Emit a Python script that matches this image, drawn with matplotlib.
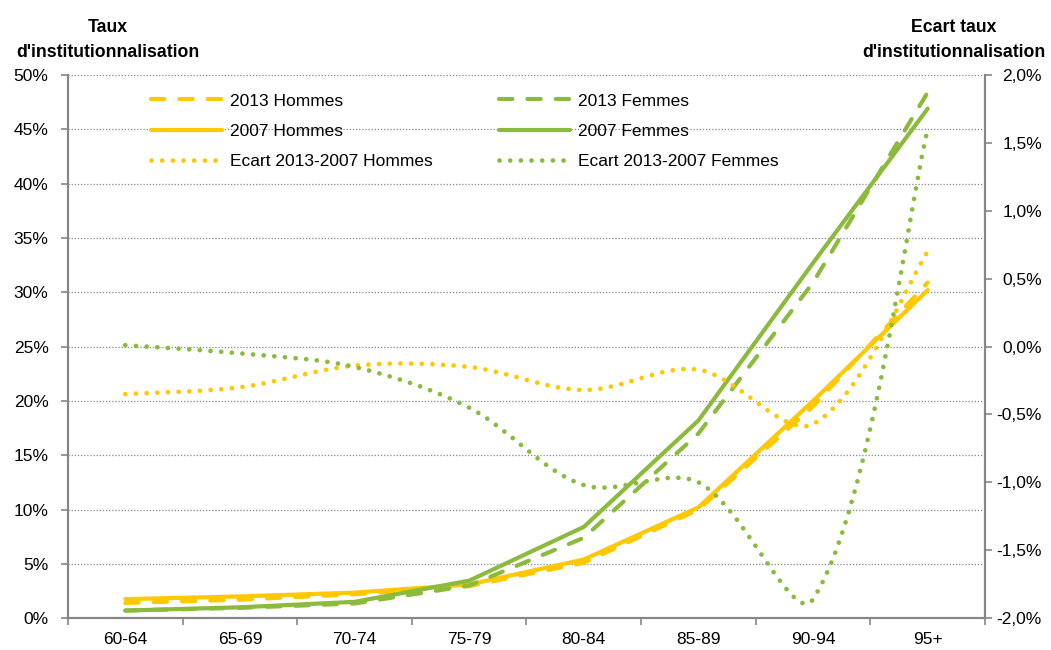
import numpy as np
import matplotlib
matplotlib.use('Agg')
from matplotlib import pyplot as plt
from matplotlib.path import Path
from matplotlib.patches import PathPatch
from matplotlib.lines import Line2D
from matplotlib.ticker import FuncFormatter, FixedLocator

plt.rcParams['font.family'] = ['Liberation Sans', 'DejaVu Sans']

# Data
categories = ['60-64', '65-69', '70-74', '75-79', '80-84', '85-89', '90-94', '95+']
h2013 = [1.4, 1.7, 2.2, 2.95, 5.1, 10.0, 19.5, 30.9]
h2007 = [1.75, 2.0, 2.35, 3.1, 5.4, 10.2, 20.0, 30.2]
f2013 = [0.7, 0.95, 1.35, 3.0, 7.4, 17.0, 30.9, 48.4]
f2007 = [0.7, 1.0, 1.5, 3.45, 8.4, 18.2, 32.7, 46.9]
ecart_h = [-0.35, -0.30, -0.14, -0.15, -0.32, -0.17, -0.57, 0.70]
ecart_f = [0.01, -0.05, -0.15, -0.45, -1.02, -1.0, -1.86, 1.60]

YELLOW = '#FFC800'
GREEN = '#8BBA3C'
GREY = '#868686'
LW = 3.0
LW_DOT = 3.4

def smooth_path(ax, xs, ys):
    # Excel-like smoothed line, control points weighted by segment length (screen space)
    pts = ax.transData.transform(np.column_stack([xs, ys]))
    n = len(pts)
    seg = np.hypot(*np.diff(pts, axis=0).T)
    verts = [pts[0]]
    codes = [Path.MOVETO]
    for i in range(n - 1):
        p0 = pts[i - 1] if i > 0 else pts[i]
        p1 = pts[i]
        p2 = pts[i + 1]
        p3 = pts[i + 2] if i + 2 < n else pts[i + 1]
        dprev = seg[i - 1] if i > 0 else seg[i]
        dnext = seg[i + 1] if i + 2 < n else seg[i]
        c1 = p1 + (p2 - p0) / 3 * seg[i] / (dprev + seg[i])
        c2 = p2 - (p3 - p1) / 3 * seg[i] / (seg[i] + dnext)
        verts += [c1, c2, p2]
        codes += [Path.CURVE4] * 3
    verts = ax.transData.inverted().transform(np.array(verts))
    return Path(verts, codes)

x = np.arange(len(categories))

fig = plt.figure(figsize=(10.51, 6.5), dpi=100)
ax = fig.add_axes([0.0647, 0.049, 0.8725, 0.8356])
ax2 = ax.twinx()

dash = (0, (3.2, 3.6))
dot = (0, (0.01, 2.25))

ax.plot(x, h2013, color=YELLOW, lw=LW, ls=dash, dash_capstyle='round', zorder=3)
ax.plot(x, h2007, color=YELLOW, lw=LW, ls='-', solid_capstyle='round', zorder=3)
ax.plot(x, f2013, color=GREEN, lw=LW, ls=dash, dash_capstyle='round', zorder=3)
ax.plot(x, f2007, color=GREEN, lw=LW, ls='-', solid_capstyle='round', zorder=3)

# left axis
ax.set_xlim(-0.5, len(categories) - 0.5)
ax.set_ylim(0, 50)
ax.set_yticks(np.arange(0, 51, 5))
ax.yaxis.set_major_formatter(FuncFormatter(lambda v, p: '%d%%' % v))
ax.grid(axis='y', color=GREY, ls=(0, (1, 1.5)), lw=0.9)
ax.set_axisbelow(True)

ax.set_xticks(x)
ax.set_xticklabels(categories)
ax.xaxis.set_minor_locator(FixedLocator(np.arange(-0.5, len(categories), 1)))
ax.tick_params(axis='x', which='major', length=0, pad=10, labelsize=12.5)
ax.tick_params(axis='x', which='minor', length=5, color=GREY, width=1.2)
ax.tick_params(axis='y', length=5, color=GREY, width=1.2, pad=9, labelsize=12.5)

# right axis
ax2.set_xlim(-0.5, len(categories) - 0.5)
ax2.set_ylim(-2.0, 2.0)
ax2.set_yticks(np.arange(-2.0, 2.01, 0.5))
ax2.yaxis.set_major_formatter(FuncFormatter(lambda v, p: ('%.1f%%' % v).replace('.', ',')))
ax2.tick_params(axis='y', length=5, color=GREY, width=1.2, pad=36, labelsize=12.5)
for lab in ax2.get_yticklabels():
    lab.set_horizontalalignment('right')

for vals, col in [(ecart_h, YELLOW), (ecart_f, GREEN)]:
    patch = PathPatch(smooth_path(ax2, x, vals), facecolor='none', edgecolor=col,
                      lw=LW_DOT, linestyle=dot, capstyle='round')
    ax2.add_patch(patch)

for a in (ax, ax2):
    a.spines['top'].set_visible(False)
    for s in ('left', 'right', 'bottom'):
        a.spines[s].set_color(GREY)
        a.spines[s].set_linewidth(1.5)

# titles
fig.text(108 / 1051, 1 - 40 / 650, "Taux\nd'institutionnalisation", ha='center',
         va='center', fontsize=12.7, fontweight='bold', linespacing=1.6)
fig.text(954 / 1051, 1 - 40 / 650, "Ecart taux\nd'institutionnalisation", ha='center',
         va='center', fontsize=12.7, fontweight='bold', linespacing=1.6)

# legend
handles = [
    Line2D([], [], color=YELLOW, lw=LW, ls=dash, dash_capstyle='round'),
    Line2D([], [], color=YELLOW, lw=LW, ls='-', solid_capstyle='round'),
    Line2D([], [], color=YELLOW, lw=LW_DOT, ls=dot, dash_capstyle='round'),
    Line2D([], [], color=GREEN, lw=LW, ls=dash, dash_capstyle='round'),
    Line2D([], [], color=GREEN, lw=LW, ls='-', solid_capstyle='round'),
    Line2D([], [], color=GREEN, lw=LW_DOT, ls=dot, dash_capstyle='round'),
]
labels = ['2013 Hommes', '2007 Hommes', 'Ecart 2013-2007 Hommes',
          '2013 Femmes', '2007 Femmes', 'Ecart 2013-2007 Femmes']
leg = ax2.legend(handles, labels, ncol=2, loc='upper left', bbox_to_anchor=(0.073, 0.995),
                 frameon=False, fontsize=12.5, handlelength=4.1, handletextpad=0.45,
                 columnspacing=3.85, labelspacing=0.86)

plt.savefig('out.png', dpi=100)
